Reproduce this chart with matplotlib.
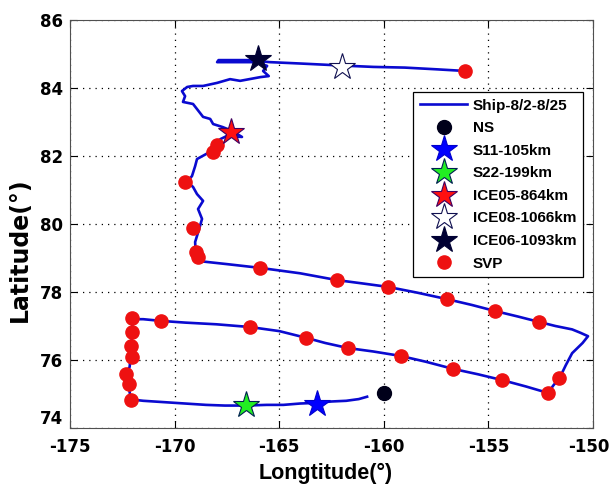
import numpy as np
import matplotlib
matplotlib.use("Agg")
import matplotlib.pyplot as plt
import matplotlib.transforms as mtransforms
from matplotlib.font_manager import FontProperties

# ship track 8/2-8/25 (lon, lat waypoints)
ship_lon = [-160.8, -161.2, -161.8, -162.5, -163.2, -164.0, -164.8, -165.6, -166.6, -167.6,
            -168.5, -169.5, -170.5, -171.5, -172.08, -172.15, -172.2, -172.3, -172.3, -172.15,
            -172.1, -172.05, -172.05, -172.0, -171.5, -170.65, -169.5, -168.0, -166.4, -165.0,
            -163.7, -162.8, -161.7, -160.5, -159.2, -158.0, -156.7, -155.5, -154.35, -153.2,
            -152.15, -151.9, -151.6, -151.3, -151.0, -150.5, -150.24, -150.6, -151.0, -151.8,
            -152.58, -153.6, -154.68, -155.8, -156.98, -158.4, -159.8, -161.0, -162.24, -164.0,
            -165.92, -167.5, -168.7, -168.9, -169.0, -169.02, -168.83, -168.69, -168.88, -168.64,
            -168.93, -169.12, -169.41, -169.17, -169.02, -168.93, -168.31, -167.97, -167.8, -167.5,
            -166.78, -167.26, -167.7, -168.16, -168.3, -168.64, -168.93, -169.12, -169.6, -169.5,
            -169.65, -169.4, -169.12, -168.64, -167.97, -167.35, -166.87, -165.9, -165.5, -165.77,
            -165.58, -166.06, -167.97, -167.9, -166.5, -165.44, -164.0, -162.0, -160.5, -159.0,
            -157.5, -156.1]
ship_lat = [74.92, 74.85, 74.8, 74.78, 74.74, 74.72, 74.68, 74.68, 74.66, 74.66,
            74.68, 74.72, 74.76, 74.8, 74.84, 75.05, 75.29, 75.5, 75.6, 75.8,
            76.1, 76.4, 76.8, 77.2, 77.2, 77.15, 77.1, 77.05, 76.97, 76.85,
            76.65, 76.5, 76.35, 76.25, 76.12, 75.95, 75.74, 75.58, 75.41, 75.22,
            75.03, 75.25, 75.47, 75.85, 76.2, 76.5, 76.7, 76.8, 76.9, 77.0,
            77.12, 77.28, 77.44, 77.62, 77.79, 77.98, 78.15, 78.25, 78.35, 78.55,
            78.71, 78.82, 78.9, 79.05, 79.25, 79.47, 79.85, 80.15, 80.44, 80.68,
            80.88, 81.09, 81.24, 81.41, 81.7, 81.91, 82.12, 82.41, 82.5, 82.59,
            82.56, 82.74, 82.85, 82.94, 83.09, 83.15, 83.38, 83.53, 83.59, 83.76,
            83.91, 84.03, 84.06, 84.06, 84.15, 84.26, 84.21, 84.32, 84.35, 84.5,
            84.65, 84.76, 84.76, 84.82, 84.82, 84.76, 84.72, 84.66, 84.62, 84.6,
            84.55, 84.5]

# moorings / stations
ns = (-160.0, 75.02)
s11 = (-163.2, 74.72)
s22 = (-166.6, 74.68)
ice05 = (-167.3, 82.72)
ice08 = (-162.0, 84.62)
ice06 = (-166.0, 84.86)

# SVP drops
svp_lon = [-156.1, -167.97, -168.16, -169.5, -169.12, -168.98, -168.88, -165.92, -162.24, -159.8,
           -156.98, -154.68, -152.58, -151.63, -152.15, -154.35, -156.7, -159.18, -161.71, -163.72,
           -166.4, -170.65, -172.04, -172.04, -172.08, -172.04, -172.32, -172.18, -172.08]
svp_lat = [84.5, 82.32, 82.12, 81.24, 79.88, 79.18, 79.03, 78.71, 78.35, 78.15,
           77.79, 77.44, 77.12, 75.47, 75.03, 75.41, 75.74, 76.12, 76.35, 76.65,
           76.97, 77.15, 77.24, 76.82, 76.41, 76.09, 75.59, 75.29, 74.82]

x_ticks = [-175, -170, -165, -160, -155, -150]
y_ticks = [74, 76, 78, 80, 82, 84, 86]

plt.rcParams['font.family'] = ['Liberation Sans', 'DejaVu Sans']
plt.rcParams['font.weight'] = 'bold'
plt.rcParams['axes.unicode_minus'] = False

fig = plt.figure(figsize=(6.11, 4.84), dpi=100)
ax = fig.add_axes([0.1146, 0.1157, 0.856, 0.843])

ax.plot(ship_lon, ship_lat, color='#0a0ad0', lw=1.9, label='Ship-8/2-8/25', zorder=3)
ax.plot(*ns, 'o', ms=10, color='#00001a', mec='#00001a', label='NS', zorder=5)
ax.plot(*s11, '*', ms=20, color='#0000ff', mec='#0000cc', mew=0.8, label='S11-105km', zorder=5)
ax.plot(*s22, '*', ms=20, color='#22ee22', mec='#002050', mew=0.8, label='S22-199km', zorder=5)
ax.plot(*ice05, '*', ms=20, color='#ff1010', mec='#400060', mew=0.8, label='ICE05-864km', zorder=5)
ax.plot(*ice08, '*', ms=20, color='white', mec='#101050', mew=0.8, label='ICE08-1066km', zorder=5)
ax.plot(*ice06, '*', ms=20, color='#000033', mec='#000033', mew=0.8, label='ICE06-1093km', zorder=5)
ax.plot(svp_lon, svp_lat, 'o', ms=9.5, color='#ee1111', mec='#ee1111', ls='none', label='SVP', zorder=4)

ax.set_xlim(-175, -150)
ax.set_ylim(74, 86)
ax.set_xticks(x_ticks, labels=[str(v) for v in x_ticks])
ax.set_yticks(y_ticks, labels=[str(v) for v in y_ticks])
ax.grid(True, color='black', ls=(0, (1, 4)), lw=0.9)
ax.tick_params(direction='in', top=True, right=True, length=5)
ax.tick_params(axis='x', pad=7)
ax.tick_params(axis='y', pad=5)
for sp in ax.spines.values():
    sp.set_color('#505050')

ax.set_xlabel('Longtitude(°)', fontsize=15.5, fontweight='bold')
ax.xaxis.set_label_coords(0.488, -0.085)
ax.set_ylabel('Latitude(°)', fontsize=17, fontweight='bold', family='DejaVu Sans')
ax.yaxis.set_label_coords(-0.073, 0.436)

leg = ax.legend(loc='upper left', bbox_to_anchor=(0.656, 0.824), fontsize=11,
                labelspacing=0.56, handlelength=3.1, borderpad=0.45, fancybox=False,
                framealpha=1, edgecolor='black', borderaxespad=0, handletextpad=0.35)
leg.get_frame().set_linewidth(0.9)
for t in leg.get_texts():
    t.set_fontweight('bold')

# tick labels: heavy bold font, set after the ticks exist
fig.canvas.draw()
tick_font = FontProperties(family='DejaVu Sans', weight='bold', size=12)
for lab in ax.get_xticklabels() + ax.get_yticklabels():
    lab.set_fontproperties(tick_font)
ax.get_yticklabels()[0].set_verticalalignment('bottom')
last = ax.get_xticklabels()[-1]
last.set_transform(last.get_transform() + mtransforms.ScaledTranslation(-4 / 100, 0, fig.dpi_scale_trans))

fig.savefig('out.png', dpi=100)
